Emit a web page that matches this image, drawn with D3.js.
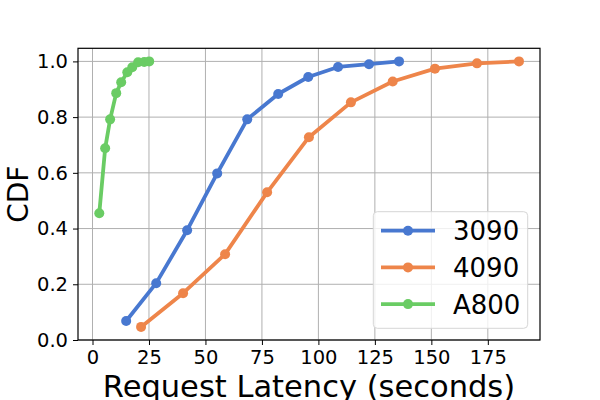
<!DOCTYPE html>
<html><head><meta charset="utf-8">
<script src="https://cdn.jsdelivr.net/npm/d3@7"></script>
<style>body{margin:0;background:#fff}svg{display:block;font-family:"DejaVu Sans",sans-serif}</style>
</head><body><svg id="c" width="600" height="400"></svg>
<script>
const seriesNames = ["3090", "4090", "A800"];
const colors = ["#4878d0", "#ee854a", "#6acc64"];
const lat3090 = [14.9, 28.2, 41.9, 55.2, 68.5, 82.2, 95.5, 108.7, 122.4, 135.7];
const cdf3090 = [0.068, 0.204, 0.394, 0.598, 0.792, 0.883, 0.944, 0.980, 0.990, 1.0];
const lat4090 = [21.5, 40.1, 58.7, 77.3, 95.8, 114.4, 132.9, 151.6, 170.2, 188.8];
const cdf4090 = [0.047, 0.168, 0.308, 0.530, 0.728, 0.853, 0.928, 0.974, 0.993, 1.0];
const latA800 = [3.0, 5.6, 7.8, 10.5, 12.7, 15.4, 17.6, 20.2, 22.9, 25.1];
const cdfA800 = [0.455, 0.688, 0.792, 0.886, 0.925, 0.961, 0.979, 0.997, 0.998, 1.0];
const xTicks = [0, 25, 50, 75, 100, 125, 150, 175];
const yTicks = [0.0, 0.2, 0.4, 0.6, 0.8, 1.0];
const xLabel = "Request Latency (seconds)";
const yLabel = "CDF";

const series = [[lat3090, cdf3090], [lat4090, cdf4090], [latA800, cdfA800]]
  .map((s, i) => ({name: seriesNames[i], color: colors[i], pts: s[0].map((x, j) => [x, s[1][j]])}));

const L = 78, R = 540, T = 48.3, B = 340;
const svg = d3.select("#c");
const x = d3.scaleLinear().domain([-6.42, 198.1]).range([L, R]);
const y = d3.scaleLinear().domain([0, 1.047]).range([B, T]);

// grid
const g = svg.append("g");
g.selectAll(".gx").data(xTicks).join("line")
  .attr("x1", d => x(d)).attr("x2", d => x(d)).attr("y1", T).attr("y2", B)
  .attr("stroke", "#b0b0b0").attr("stroke-width", 1);
g.selectAll(".gy").data(yTicks).join("line")
  .attr("y1", d => y(d)).attr("y2", d => y(d)).attr("x1", L).attr("x2", R)
  .attr("stroke", "#b0b0b0").attr("stroke-width", 1);

// lines
const line = d3.line().x(d => x(d[0])).y(d => y(d[1]));
series.forEach(s => {
  svg.append("path").attr("d", line(s.pts)).attr("fill", "none")
    .attr("stroke", s.color).attr("stroke-width", 3.8).attr("stroke-linejoin", "round").attr("stroke-linecap", "butt");
  svg.selectAll(null).data(s.pts).join("circle")
    .attr("cx", d => x(d[0])).attr("cy", d => y(d[1])).attr("r", 5).attr("fill", s.color);
});

// axes
const xAxis = svg.append("g").attr("transform", `translate(0,${B})`)
  .call(d3.axisBottom(x).tickValues(xTicks).tickSize(5).tickPadding(5).tickFormat(d3.format("d")));
const yAxis = svg.append("g").attr("transform", `translate(${L},0)`)
  .call(d3.axisLeft(y).tickValues(yTicks).tickSize(5).tickPadding(5).tickFormat(d3.format(".1f")));
[xAxis, yAxis].forEach(a => {
  a.select(".domain").remove();
  a.selectAll("text").attr("font-size", 19.5).attr("fill", "#000").attr("font-family", "DejaVu Sans");
  a.selectAll("line").attr("stroke", "#000").attr("stroke-width", 1);
});
svg.append("rect").attr("x", L).attr("y", T).attr("width", R - L).attr("height", B - T)
  .attr("fill", "none").attr("stroke", "#000").attr("stroke-width", 1.2);

// labels
svg.append("text").attr("x", (L + R) / 2).attr("y", 397).attr("text-anchor", "middle")
  .attr("font-size", 30.5).text(xLabel);
svg.append("text").attr("transform", `translate(27.5,${(T + B) / 2}) rotate(-90)`)
  .attr("text-anchor", "middle").attr("font-size", 28).text(yLabel);

// legend
const lg = svg.append("g");
lg.append("rect").attr("x", 373.3).attr("y", 211.7).attr("width", 154.4).attr("height", 116.6)
  .attr("rx", 4).attr("fill", "#fff").attr("fill-opacity", 0.8).attr("stroke", "#d6d6d6").attr("stroke-width", 1);
series.forEach((s, i) => {
  const yy = 230.7 + i * 36.7;
  lg.append("line").attr("x1", 381).attr("x2", 435).attr("y1", yy).attr("y2", yy)
    .attr("stroke", s.color).attr("stroke-width", 3.8);
  lg.append("circle").attr("cx", 408).attr("cy", yy).attr("r", 5).attr("fill", s.color);
  lg.append("text").attr("x", 453).attr("y", yy + 9.5).attr("font-size", 26).text(s.name);
});
</script></body></html>
